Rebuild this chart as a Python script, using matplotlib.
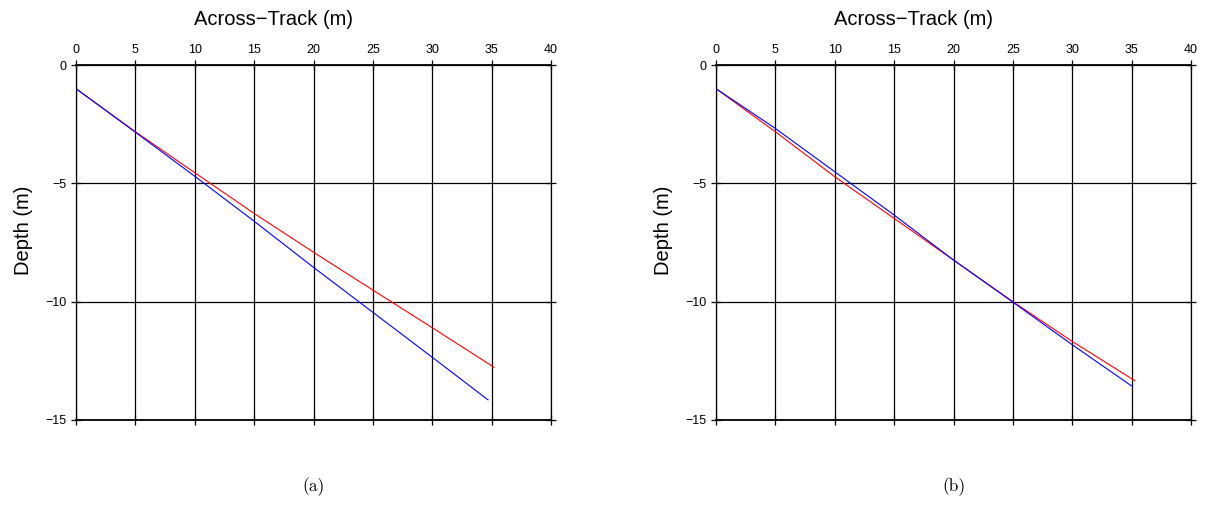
import numpy as np
import matplotlib.pyplot as plt

plt.rcParams['font.family'] = ['Liberation Sans', 'DejaVu Sans']

# across-track positions (m) and depths (m) for each profile
x_a_red = [0, 5, 10, 15, 20, 25, 30, 35.2]
d_a_red = [-1.0, -2.82, -4.55, -6.27, -7.91, -9.51, -11.1, -12.77]
x_a_blue = [0, 5, 10, 15, 20, 25, 30, 34.7]
d_a_blue = [-1.0, -2.84, -4.70, -6.60, -8.55, -10.45, -12.35, -14.15]

x_b_red = [0, 5, 10, 15, 20, 25, 30, 35.28]
d_b_red = [-1.0, -2.82, -4.72, -6.48, -8.24, -10.0, -11.68, -13.34]
x_b_blue = [0, 5, 10, 15, 20, 25, 30, 35.08]
d_b_blue = [-1.0, -2.68, -4.51, -6.34, -8.24, -10.02, -11.82, -13.59]

xticks = np.arange(0, 41, 5)
yticks = [0, -5, -10, -15]
captions = ['(a)', '(b)']

W, H = 1206, 516
fig = plt.figure(figsize=(W / 100, H / 100), dpi=100)

panels = [
    (76, (x_a_red, d_a_red), (x_a_blue, d_a_blue)),
    (716, (x_b_red, d_b_red), (x_b_blue, d_b_blue)),
]

for (left_px, red, blue), cap in zip(panels, captions):
    ax = fig.add_axes([left_px / W, 1 - 420 / H, 475 / W, 355 / H])
    ax.set_xlim(0, 40)
    ax.set_ylim(-15, 0)
    ax.set_xticks(xticks)
    ax.set_yticks(yticks)
    ax.set_yticklabels(['0', '\u22125', '\u221210', '\u221215'])
    ax.grid(True, color='black', linewidth=0.9)
    ax.set_axisbelow(True)
    ax.spines['top'].set_linewidth(1.3)
    ax.spines['bottom'].set_linewidth(1.3)
    ax.spines['left'].set_linewidth(0.9)
    ax.spines['right'].set_linewidth(0.9)
    ax.tick_params(direction='inout', length=7, width=0.9,
                   top=True, bottom=True, left=True, right=True,
                   labeltop=True, labelbottom=False, labelsize=9, pad=3)
    ax.xaxis.set_label_position('top')
    ax.set_xlabel('Across\u2212Track (m)', fontsize=14.5, va='center')
    ax.xaxis.set_label_coords(0.415, 1.127)
    ax.set_ylabel('Depth (m)', fontsize=14.5, va='center')
    ax.yaxis.set_label_coords(-0.11, 0.535)

    ax.plot(red[0], red[1], color='red', linewidth=0.8)
    ax.plot(blue[0], blue[1], color='blue', linewidth=0.8)

    fig.text((left_px + 237.5) / W, 1 - 487 / H, cap, ha='center', va='center',
             fontsize=12.5, family='cmr10')

fig.savefig('out.png', dpi=100)
